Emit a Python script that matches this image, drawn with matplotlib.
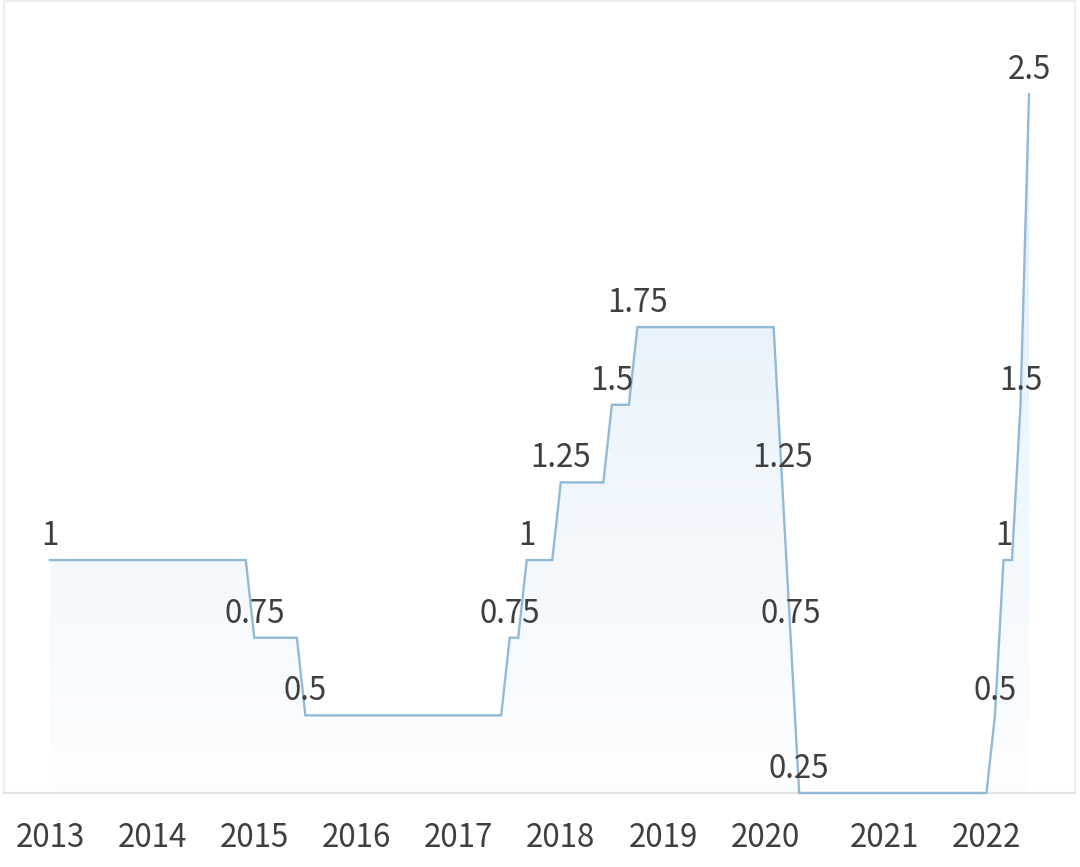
import numpy as np
import pandas as pd
import matplotlib
matplotlib.use("Agg")
import matplotlib.pyplot as plt
from matplotlib.colors import to_rgb

# ---- data: policy-rate change events (date -> rate, %) ----
change_dates = ["2013-01", "2015-01", "2015-07", "2017-07", "2017-09", "2018-01",
                "2018-07", "2018-10", "2020-03-04", "2020-03-13", "2020-03-27",
                "2022-03", "2022-04", "2022-06", "2022-07"]
change_rates = [1, 0.75, 0.5, 0.75, 1, 1.25, 1.5, 1.75, 1.25, 0.75, 0.25,
                0.5, 1, 1.5, 2.5]

# category axis (monthly, with the three March-2020 decisions as separate entries)
cat_part1 = [str(p) for p in pd.period_range("2013-01", "2020-02", freq="M")]
cat_march = ["2020-03-04", "2020-03-13", "2020-03-27"]
cat_part2 = [str(p) for p in pd.period_range("2020-04", "2022-01", freq="M")]
cat_part3 = [str(p) for p in pd.period_range("2022-03", "2022-07", freq="M")]
categories = cat_part1 + cat_march + cat_part2 + cat_part3

series = pd.Series(np.nan, index=categories)
for d, r in zip(change_dates, change_rates):
    series[d] = r
series = series.ffill()
values = series.values
xs = np.arange(len(categories))

tick_idx = [i for i, c in enumerate(categories) if c[5:7] == "01" and len(c) == 7]
tick_labels = [categories[i][:4] for i in tick_idx]

# ---- style ----
plt.rcParams["font.family"] = ["Noto Sans CJK SC", "DejaVu Sans"]
TEXT = "#3f3f3f"
LINE = "#92bad6"
FS = 22.5

fig = plt.figure(figsize=(10.8, 8.67), dpi=100)
ax = fig.add_axes([4 / 1080, 74 / 867, 1071 / 1080, 792 / 867])
ax.set_xlim(-5.4, 120.4)
ax.set_ylim(0.25, 2.8)

# gradient area fill
ymin, ymax = 0.25, max(values)
top_c = np.array(to_rgb("#e0eef9"))
bot_c = np.array(to_rgb("#fdfeff"))
t = np.linspace(0, 1, 256)[:, None]
grad = (top_c[None, :] * (1 - t) + bot_c[None, :] * t)[:, None, :]
im = ax.imshow(grad, extent=(xs[0], xs[-1], ymin, ymax), origin="upper",
               aspect="auto", zorder=1, interpolation="bilinear")
poly = ax.fill_between(xs, values, ymin, facecolor="none", edgecolor="none")
im.set_clip_path(poly.get_paths()[0], transform=ax.transData)

ax.plot(xs, values, color=LINE, lw=1.7, zorder=3, clip_on=False,
        solid_joinstyle="miter")

# labels at change points
prev = None
for x, v in zip(xs, values):
    if prev is None or v != prev:
        ax.annotate(f"{v:g}", (x, v), xytext=(0, 10.8), textcoords="offset points",
                    ha="center", va="baseline", fontsize=FS, color=TEXT, zorder=4)
    prev = v

ax.set_xticks(tick_idx)
ax.set_xticklabels(tick_labels)
ax.set_yticks([])
ax.tick_params(axis="x", length=0, pad=21, labelsize=FS, labelcolor=TEXT)
for s in ["left", "right", "top"]:
    ax.spines[s].set_color("#eeeeee")
    ax.spines[s].set_linewidth(1.5)
ax.spines["bottom"].set_color("#e4e4e4")
ax.spines["bottom"].set_linewidth(1.5)

fig.savefig("out.png", dpi=100, facecolor="white")
